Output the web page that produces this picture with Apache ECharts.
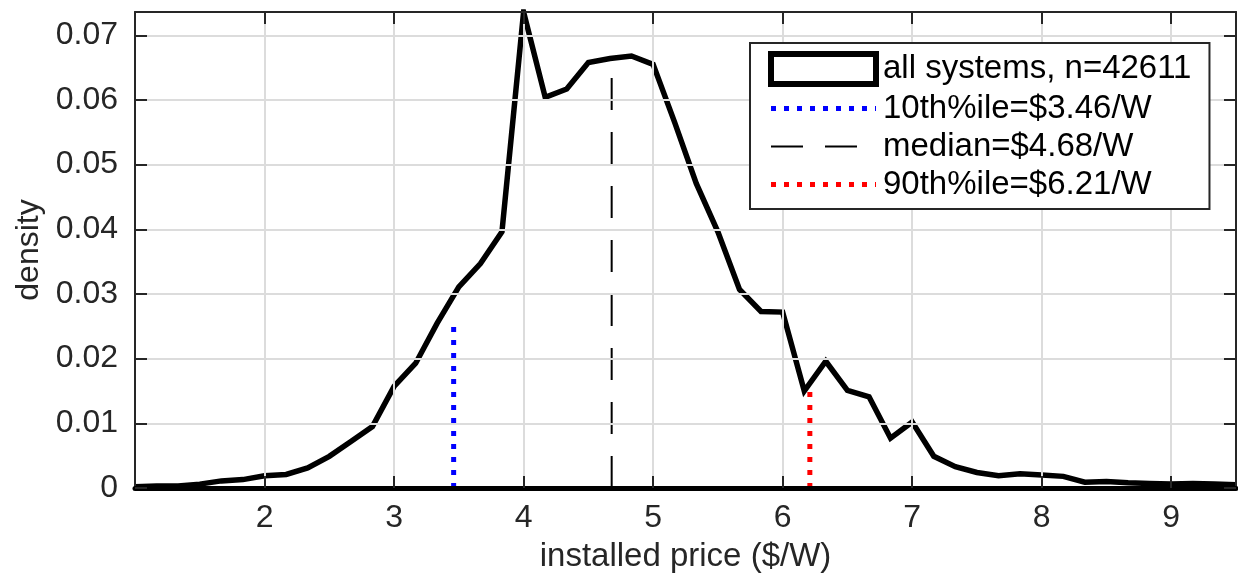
<!DOCTYPE html>
<html><head><meta charset="utf-8">
<script src="https://cdn.jsdelivr.net/npm/echarts@6/dist/echarts.min.js"></script>
<style>html,body{margin:0;padding:0;background:#fff}#c{width:1238px;height:578px}</style>
</head><body><div id="c"></div>
<script>
// installed price ($/W) at each density point
const priceX = [1.000,1.167,1.333,1.500,1.667,1.833,2.000,2.167,2.333,2.500,2.667,2.833,
  3.000,3.167,3.333,3.500,3.667,3.833,4.000,4.167,4.333,4.500,4.667,4.833,
  5.000,5.167,5.333,5.500,5.667,5.833,6.000,6.167,6.333,6.500,6.667,6.833,
  7.000,7.167,7.333,7.500,7.667,7.833,8.000,8.167,8.333,8.500,8.667,8.833,
  9.000,9.167,9.333,9.500];
const density = [0.0002,0.0003,0.0003,0.0006,0.0011,0.0013,0.0019,0.0021,0.0031,0.0049,0.0072,0.0095,
  0.0157,0.0193,0.0255,0.0311,0.0347,0.0396,0.0736,0.0604,0.0617,0.0658,0.0664,0.0668,
  0.0655,0.0565,0.0471,0.0396,0.0307,0.0273,0.0272,0.0150,0.0196,0.0151,0.0141,0.0077,
  0.0102,0.0049,0.0033,0.0024,0.0019,0.0022,0.0020,0.0018,0.0009,0.0010,0.0008,0.0007,
  0.0006,0.0007,0.0006,0.0005];
const seriesNames = ['all systems, n=42611','10th%ile=$3.46/W','median=$4.68/W','90th%ile=$6.21/W'];
const pctValues = [3.46, 4.68, 6.21];
const pctTops = [0.0255, 0.0664, 0.0149];
const pctColors = ['#0000ff', '#000000', '#ff0000'];
const xAxisName = 'installed price ($/W)';
const yAxisName = 'density';

const FONT = 'Liberation Sans';
const frame = '#262626';
const yMax = Math.max.apply(null, density);

const dottedStyle = c => ({color:c, width:5, type:[5,8], cap:'butt'});
const dashedStyle = c => ({color:c, width:2, type:[32,22], cap:'butt'});
const pctLine = i => i===1 ? dashedStyle(pctColors[i]) : dottedStyle(pctColors[i]);

const tickStyle = {inside:true, length:12, lineStyle:{color:frame, width:2}};
const chart = echarts.init(document.getElementById('c'), null, {renderer:'canvas'});
const pctSeries = pctValues.map((v,i)=>({
  type:'line', name: seriesNames[i+1], data:[[v,0],[v,pctTops[i]]], symbol:'none', z:3,
  itemStyle:{color:pctColors[i]}, lineStyle: pctLine(i)
}));
chart.setOption({
  animation:false,
  grid:{left:135, right:2, top:12, bottom:87, containLabel:false},
  xAxis:[{
    type:'value', min:1, max:9.5, interval:1, position:'bottom', z:4,
    axisLine:{show:true, onZero:false, lineStyle:{color:'#000', width:5}},
    axisTick:tickStyle,
    axisLabel:{showMinLabel:false, showMaxLabel:false, fontSize:32, color:frame, margin:14, fontFamily:FONT},
    splitLine:{show:true, showMinLine:false, showMaxLine:false, lineStyle:{color:'#dcdcdc', width:2}},
    name:xAxisName, nameLocation:'middle', nameGap:52,
    nameTextStyle:{fontSize:33, color:frame, fontFamily:FONT}
  },{
    type:'value', min:1, max:9.5, interval:1, position:'top', z:4,
    axisLine:{show:true, onZero:false, lineStyle:{color:frame, width:2}},
    axisTick:tickStyle, axisLabel:{show:false}, splitLine:{show:false}
  }],
  yAxis:[{
    type:'value', min:0, max:yMax, interval:0.01, position:'left', z:4,
    axisLine:{show:true, onZero:false, lineStyle:{color:frame, width:2}},
    axisTick:tickStyle,
    axisLabel:{showMaxLabel:false, fontSize:32, color:frame, margin:17, fontFamily:FONT},
    splitLine:{show:true, showMinLine:false, showMaxLine:false, lineStyle:{color:'#dcdcdc', width:2}},
    name:yAxisName, nameLocation:'middle', nameGap:88,
    nameTextStyle:{fontSize:32, color:frame, fontFamily:FONT}
  },{
    type:'value', min:0, max:yMax, interval:0.01, position:'right', z:4,
    axisLine:{show:true, onZero:false, lineStyle:{color:frame, width:2}},
    axisTick:tickStyle, axisLabel:{show:false}, splitLine:{show:false}
  }],
  legend:{
    orient:'vertical', left:750, top:43, itemWidth:105, itemHeight:30, itemGap:5,
    padding:[8,18,8,18], backgroundColor:'#fff', borderColor:frame, borderWidth:2,
    selectedMode:false, z:10,
    textStyle:{fontSize:33, color:'#000', fontFamily:FONT, padding:[0,0,0,2]},
    data:[{name:seriesNames[0], icon:'rect', itemStyle:{color:'#fff', borderColor:'#000', borderWidth:6}}]
      .concat(pctValues.map((v,i)=>({name:seriesNames[i+1], itemStyle:{opacity:0}, lineStyle:pctLine(i)})))
  },
  series:[{
    type:'line', name:seriesNames[0], data:priceX.map((x,i)=>[x,density[i]]),
    symbol:'none', z:2, lineStyle:{color:'#000', width:5.5, join:'miter'}
  }].concat(pctSeries)
});
</script></body></html>
